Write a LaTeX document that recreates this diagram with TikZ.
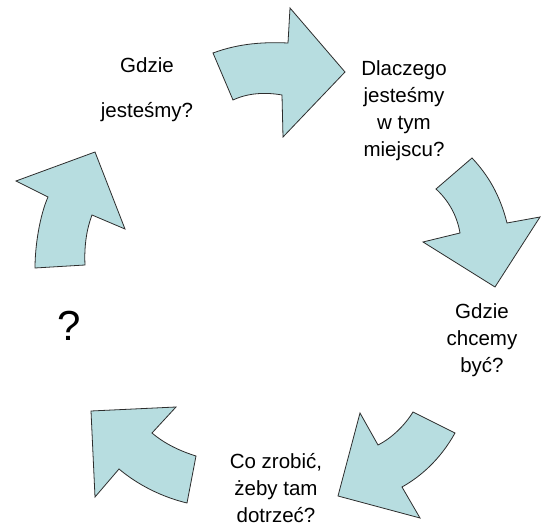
\documentclass[tikz,border=0pt]{standalone}
\usepackage{fontspec}
\setmainfont{Liberation Sans}
\begin{document}
\begin{tikzpicture}[x=1pt,y=-1pt,
  arrowshape/.style={fill=arrowfill,draw=arrowline,line width=0.8pt,line join=miter},
  lbl/.style={inner sep=0pt,align=center,font=\fontsize{20.5}{27}\selectfont,text=black}]
\definecolor{arrowfill}{RGB}{183,221,224}
\definecolor{arrowline}{RGB}{45,45,45}
\useasboundingbox[fill=white] (0,0) rectangle (547,526);
% top arrow
\draw[arrowshape] (213,53) .. controls (240,43) and (265,42) .. (288,43) -- (290,8) -- (345,72) -- (283,137) -- (282,95) .. controls (265,92) and (248,93) .. (233,100) -- cycle;
% right arrow
\draw[arrowshape] (472,158) .. controls (488,175) and (500,195) .. (507,223) -- (540,217) -- (495,287) -- (423,242) -- (460,233) .. controls (457,215) and (448,200) .. (436,189) -- cycle;
% bottom right arrow
\draw[arrowshape] (413,412) -- (455,433) .. controls (440,460) and (420,477) .. (402,487) -- (420,518) -- (338,496) -- (360,413) -- (378,445) .. controls (392,438) and (405,425) .. (413,412) -- cycle;
% bottom left arrow
\draw[arrowshape] (91,411) -- (176,407) -- (152,433) .. controls (165,444) and (180,451) .. (196,456) -- (187,503) .. controls (162,497) and (138,485) .. (119,469) -- (95,497) -- cycle;
% left arrow
\draw[arrowshape] (35,268) -- (85,265) .. controls (84,245) and (87,228) .. (92,215) -- (125,229) -- (95,152) -- (16,181) -- (48,197) .. controls (40,215) and (35,245) .. (35,268) -- cycle;
% labels
\node[lbl,font=\fontsize{20.5}{45}\selectfont] (where) at (147,90) {Gdzie\\jesteśmy?};
\node[lbl] (why) at (404,111) {Dlaczego\\jesteśmy\\w tym\\miejscu?};
\node[lbl] (goal) at (482,340) {Gdzie\\chcemy\\być?};
\node[lbl] (how) at (276,488) {Co zrobić,\\żeby tam\\dotrzeć?};
\node[lbl,font=\fontsize{42}{42}\selectfont] (q) at (69,326) {?};
\end{tikzpicture}
\end{document}
